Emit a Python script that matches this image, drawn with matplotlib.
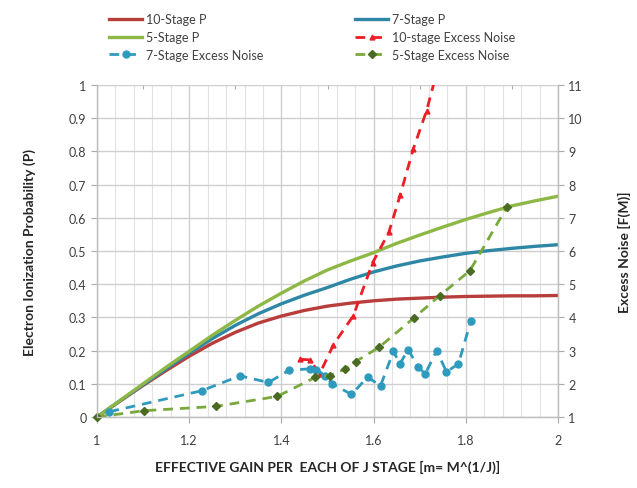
import matplotlib
matplotlib.use("Agg")
import matplotlib.pyplot as plt
from matplotlib.lines import Line2D
from matplotlib.ticker import MultipleLocator

plt.rcParams['font.family'] = ['Lato', 'DejaVu Sans']

# ---- data ----
m_curve = [1.0, 1.05, 1.1, 1.15, 1.2, 1.25, 1.3, 1.35, 1.4, 1.45, 1.5,
           1.55, 1.6, 1.65, 1.7, 1.75, 1.8, 1.85, 1.9, 1.95, 2.0]
p10 = [0, 0.048, 0.095, 0.14, 0.183, 0.222, 0.255, 0.283, 0.304, 0.321, 0.334,
       0.343, 0.35, 0.355, 0.358, 0.361, 0.363, 0.364, 0.365, 0.365, 0.366]
p7 = [0, 0.049, 0.097, 0.145, 0.192, 0.236, 0.276, 0.311, 0.341, 0.367, 0.39,
      0.415, 0.437, 0.455, 0.47, 0.482, 0.493, 0.501, 0.508, 0.514, 0.519]
p5 = [0, 0.05, 0.1, 0.15, 0.198, 0.246, 0.291, 0.334, 0.373, 0.41, 0.443,
      0.47, 0.495, 0.523, 0.548, 0.572, 0.595, 0.616, 0.636, 0.651, 0.665]

n10_m = [1.44, 1.462, 1.483, 1.513, 1.556, 1.598, 1.633, 1.658, 1.686, 1.715, 1.745]
n10_f = [2.74, 2.72, 2.3, 3.18, 4.05, 5.65, 6.56, 7.7, 9.07, 10.23, 11.8]

n7_m = [1.027, 1.227, 1.31, 1.372, 1.417, 1.461, 1.476, 1.495, 1.51, 1.552, 1.587,
        1.615, 1.643, 1.657, 1.675, 1.697, 1.712, 1.737, 1.758, 1.784, 1.811]
n7_f = [1.16, 1.79, 2.24, 2.04, 2.41, 2.45, 2.43, 2.24, 2.0, 1.68, 2.2,
        1.94, 2.98, 2.6, 3.03, 2.5, 2.3, 3.0, 2.36, 2.6, 3.9]

n5_m = [1.0, 1.102, 1.258, 1.391, 1.473, 1.505, 1.538, 1.561, 1.612, 1.687, 1.743, 1.809, 1.889]
n5_f = [1.0, 1.19, 1.32, 1.62, 2.19, 2.25, 2.44, 2.67, 3.1, 3.98, 4.65, 5.41, 7.32]

x_ticks = [1, 1.2, 1.4, 1.6, 1.8, 2]
y_ticks = [0, 0.1, 0.2, 0.3, 0.4, 0.5, 0.6, 0.7, 0.8, 0.9, 1]
y2_ticks = list(range(1, 12))

# ---- colours ----
c_red = '#B83E3C'
c_blue = '#2F87A6'
c_green = '#8DB846'
c_red_d = '#EE1C25'
c_blue_d = '#2E9BBE'
c_green_d = '#79A83C'
c_green_m = '#4A6B22'

fig = plt.figure(figsize=(6.37, 4.89), dpi=100)
ax = fig.add_axes([97/637, 1-418/489, (558-97)/637, (418-86)/489])
ax2 = ax.twinx()

ax.set_xlim(1, 2)
ax.set_ylim(0, 1)
ax2.set_ylim(1, 11)

ax.xaxis.set_major_locator(MultipleLocator(0.2))
ax.xaxis.set_minor_locator(MultipleLocator(0.04))
ax.set_xticks(x_ticks)
ax.set_xticklabels([f"{v:g}" for v in x_ticks])
ax.set_yticks(y_ticks)
ax.set_yticklabels([f"{v:g}" for v in y_ticks])
ax2.set_yticks(y2_ticks)
ax2.set_yticklabels([str(v) for v in y2_ticks])

ax.grid(True, which='major', axis='both', color='#CFCFCF', lw=1.0)
ax.grid(True, which='minor', axis='x', color='#E2E2E2', lw=0.8)
ax.set_axisbelow(True)

for a in (ax, ax2):
    for s in a.spines.values():
        s.set_color('#BFBFBF')
        s.set_linewidth(0.9)
    a.spines['top'].set_visible(False)
ax.tick_params(axis='both', which='major', colors='#AAAAAA', labelcolor='#404040',
               labelsize=9, length=4, direction='out')
ax.tick_params(axis='x', which='minor', length=0)
ax.tick_params(axis='x', pad=8)
ax2.tick_params(axis='y', colors='#AAAAAA', labelcolor='#404040', labelsize=9,
                length=4, direction='out')

sec = ax.secondary_xaxis('top')
sec.set_xticks([1.1, 1.3, 1.5, 1.7, 1.9])
sec.set_xticklabels([])
sec.tick_params(length=3, colors='#AAAAAA', direction='in')
sec.spines['top'].set_visible(False)

ax.plot(m_curve, p10, color=c_red, lw=2.4, solid_capstyle='round')
ax.plot(m_curve, p7, color=c_blue, lw=2.4, solid_capstyle='round')
ax.plot(m_curve, p5, color=c_green, lw=2.4, solid_capstyle='round')

ax2.plot(n10_m, n10_f, color=c_red_d, lw=2, dashes=(3.5, 2.5), marker='^', ms=3.5,
         mfc=c_red_d, mec=c_red_d, clip_on=True)
ax2.plot(n7_m, n7_f, color=c_blue_d, lw=2, dashes=(3.5, 2.5), marker='o', ms=5,
         mfc=c_blue_d, mec=c_blue_d)
ax2.plot(n5_m, n5_f, color=c_green_d, lw=2, dashes=(3.5, 2.5), marker='D', ms=4,
         mfc=c_green_m, mec=c_green_m, clip_on=False)

ax.set_ylabel('Electron Ionization Probability (P)', fontsize=10, fontweight='bold',
              color='#262626', labelpad=24)
ax2.set_ylabel('Excess Noise [F(M)]', fontsize=10, fontweight='bold',
               color='#262626', labelpad=25)
ax.set_xlabel('EFFECTIVE GAIN PER  EACH OF J STAGE [m= M^(1/J)]', fontsize=10,
              fontweight='bold', color='#262626', labelpad=10)

handles = [
    Line2D([], [], color=c_red, lw=2.4),
    Line2D([], [], color=c_green, lw=2.4),
    Line2D([], [], color=c_blue_d, lw=2, dashes=(3.5, 2.5), marker='o', ms=5),
    Line2D([], [], color=c_blue, lw=2.4),
    Line2D([], [], color=c_red_d, lw=2, dashes=(3.5, 2.5), marker='^', ms=3.5),
    Line2D([], [], color=c_green_d, lw=2, dashes=(3.5, 2.5), marker='D', ms=4,
           mfc=c_green_m, mec=c_green_m),
]
labels = ['10-Stage P', '5-Stage P', '7-Stage Excess Noise',
          '7-Stage P', '10-stage Excess Noise', '5-Stage Excess Noise']
fig.legend(handles, labels, ncol=2, loc='upper left', bbox_to_anchor=(98/637, 1-3/489),
           frameon=False, fontsize=9, handlelength=2.6, handletextpad=0.3,
           columnspacing=7.4, labelspacing=0.45, labelcolor='#404040')

fig.savefig('out.png', dpi=100)
